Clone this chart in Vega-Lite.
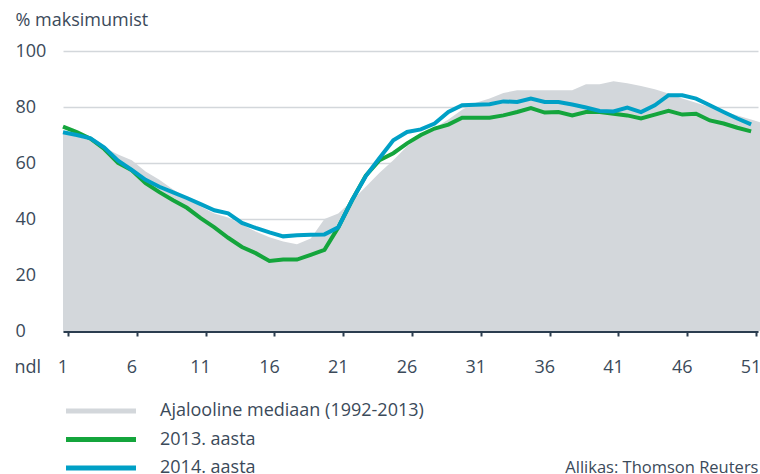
{
  "$schema": "https://vega.github.io/schema/vega-lite/v6.json",
  "width": 695,
  "height": 280,
  "autosize": {"type": "none"},
  "padding": {"left": 63, "top": 51, "right": 2, "bottom": 143},
  "config": {"font": "Open Sans", "view": {"stroke": null}},
  "data": {"values": [
    {"w": 1, "m": 70.5, "a": 73, "b": 71},
    {"w": 2, "m": 69.5, "a": 71, "b": 70},
    {"w": 3, "m": 68, "a": 68.7, "b": 68.8},
    {"w": 4, "m": 65.5, "a": 65, "b": 65.5},
    {"w": 5, "m": 63, "a": 60, "b": 60.8},
    {"w": 6, "m": 61, "a": 57.4, "b": 57.5},
    {"w": 7, "m": 57, "a": 52.8, "b": 54},
    {"w": 8, "m": 54, "a": 49.6, "b": 51.5},
    {"w": 9, "m": 50.5, "a": 46.7, "b": 49.5},
    {"w": 10, "m": 47.5, "a": 44, "b": 47.5},
    {"w": 11, "m": 44.5, "a": 40.3, "b": 45.3},
    {"w": 12, "m": 42, "a": 37, "b": 43.1},
    {"w": 13, "m": 40.5, "a": 33.3, "b": 42},
    {"w": 14, "m": 38, "a": 30, "b": 38.6},
    {"w": 15, "m": 35.5, "a": 27.8, "b": 36.8},
    {"w": 16, "m": 33.5, "a": 25, "b": 35.2},
    {"w": 17, "m": 32, "a": 25.5, "b": 33.8},
    {"w": 18, "m": 31, "a": 25.5, "b": 34.2},
    {"w": 19, "m": 33, "a": 27.2, "b": 34.4},
    {"w": 20, "m": 40, "a": 29, "b": 34.5},
    {"w": 21, "m": 42, "a": 37, "b": 37},
    {"w": 22, "m": 46.5, "a": 46.7, "b": 46.7},
    {"w": 23, "m": 51.5, "a": 55.5, "b": 55.3},
    {"w": 24, "m": 56.5, "a": 61, "b": 61.8},
    {"w": 25, "m": 61, "a": 63.5, "b": 68.1},
    {"w": 26, "m": 66, "a": 67, "b": 71.1},
    {"w": 27, "m": 69.5, "a": 70, "b": 72},
    {"w": 28, "m": 72.5, "a": 72.3, "b": 74.1},
    {"w": 29, "m": 75.5, "a": 73.7, "b": 78.2},
    {"w": 30, "m": 79, "a": 76.2, "b": 80.6},
    {"w": 31, "m": 81.5, "a": 76.2, "b": 80.8},
    {"w": 32, "m": 83, "a": 76.2, "b": 81},
    {"w": 33, "m": 85, "a": 77, "b": 82},
    {"w": 34, "m": 86, "a": 78.2, "b": 81.8},
    {"w": 35, "m": 86, "a": 79.6, "b": 83},
    {"w": 36, "m": 86, "a": 78, "b": 81.8},
    {"w": 37, "m": 86, "a": 78.2, "b": 81.8},
    {"w": 38, "m": 86, "a": 77, "b": 80.9},
    {"w": 39, "m": 88.1, "a": 78.2, "b": 79.8},
    {"w": 40, "m": 88.1, "a": 78.2, "b": 78.6},
    {"w": 41, "m": 89.2, "a": 77.6, "b": 78.4},
    {"w": 42, "m": 88.5, "a": 77, "b": 79.8},
    {"w": 43, "m": 87.5, "a": 75.9, "b": 78.2},
    {"w": 44, "m": 86.3, "a": 77.3, "b": 80.6},
    {"w": 45, "m": 84.8, "a": 78.6, "b": 84.2},
    {"w": 46, "m": 83, "a": 77.3, "b": 84.2},
    {"w": 47, "m": 81.5, "a": 77.6, "b": 83},
    {"w": 48, "m": 80, "a": 75.2, "b": 80.6},
    {"w": 49, "m": 78.5, "a": 74.1, "b": 78.2},
    {"w": 50, "m": 77, "a": 72.6, "b": 75.9},
    {"w": 51, "m": 75.5, "a": 71.3, "b": 73.8},
    {"w": 52, "m": 74, "a": null, "b": null}
  ]},
  "layer": [
    {
      "mark": {"type": "area", "clip": false, "opacity": 1},
      "encoding": {
        "x": {
          "field": "w", "type": "quantitative",
          "scale": {"domain": [1, 51.5], "nice": false, "zero": false},
          "axis": {
            "orient": "bottom",
            "values": [1, 6, 11, 16, 21, 26, 31, 36, 41, 46, 51],
            "domain": true, "domainColor": "#2b3d4f", "domainWidth": 3, "domainCap": "butt",
            "ticks": true, "tickSize": 5, "tickWidth": 2, "tickColor": "#2b3d4f", "tickOffset": 5,
            "grid": false,
            "labelFont": "Open Sans", "labelFontSize": 18, "labelColor": "#3b4a5a",
            "labelPadding": 31, "labelBaseline": "middle", "labelFlush": false, "labelOverlap": false,
            "labelOffset": -5.5,
            "title": "ndl", "titleX": -49, "titleY": 36, "titleAlign": "left", "titleBaseline": "middle",
            "titleFont": "Open Sans", "titleFontSize": 18, "titleFontWeight": "normal", "titleColor": "#3b4a5a"
          }
        },
        "y": {
          "field": "m", "type": "quantitative", "title": "% maksimumist",
          "scale": {"domain": [0, 100], "nice": false},
          "axis": {
            "values": [0, 20, 40, 60, 80, 100],
            "domain": false, "ticks": false, "tickSize": 0,
            "grid": true, "gridColor": "#d3d7db", "gridWidth": 1.5,
            "labelAlign": "left", "labelPadding": 48, "labelBaseline": "middle",
            "labelFont": "Open Sans", "labelFontSize": 18, "labelColor": "#3b4a5a",
            "title": "% maksimumist", "titleAngle": 0, "titleX": -48, "titleY": -31,
            "titleAlign": "left", "titleBaseline": "middle",
            "titleFont": "Open Sans", "titleFontSize": 18, "titleFontWeight": "normal", "titleColor": "#3b4a5a"
          }
        },
        "color": {
          "datum": "Ajalooline mediaan (1992-2013)",
          "scale": {
            "domain": ["Ajalooline mediaan (1992-2013)", "2013. aasta", "2014. aasta"],
            "range": ["#d3d7db", "#14a53c", "#00a0c6"]
          },
          "legend": {
            "orient": "none", "legendX": 0, "legendY": 351, "title": null,
            "direction": "vertical", "padding": 0,
            "symbolSize": 100, "symbolStrokeWidth": 0,
            "symbolType": "M-1.2,-0.5L12.8,-0.5L12.8,0.5L-1.2,0.5Z",
            "labelOffset": 79, "labelFont": "Open Sans", "labelFontSize": 18, "labelColor": "#3b4a5a",
            "labelLimit": 500, "rowPadding": 10.5,
            "encode": {
              "symbols": {
                "update": {
                  "shape": {"signal": "datum.index === 0 ? 'M-1.2,-1.3L12.8,-1.3L12.8,1.3L-1.2,1.3Z' : 'M-1.2,-0.5L12.8,-0.5L12.8,0.5L-1.2,0.5Z'"},
                  "fill": {"scale": "color", "field": "value"},
                  "stroke": {"value": "transparent"},
                  "strokeWidth": {"value": 0},
                  "opacity": {"value": 1},
                  "fillOpacity": {"value": 1}
                }
              }
            }
          }
        }
      }
    },
    {
      "mark": {"type": "line", "strokeWidth": 4},
      "encoding": {
        "x": {
          "field": "w", "type": "quantitative",
          "axis": {
            "orient": "bottom", "offset": -4,
            "values": [1, 6, 11, 16, 21, 26, 31, 36, 41, 46, 51],
            "domain": false, "ticks": true, "tickSize": 4, "tickWidth": 2, "tickColor": "#2b3d4f", "tickOffset": 5,
            "labels": false, "grid": false,
            "title": "Allikas: Thomson Reuters", "titleX": 695, "titleY": 140,
            "titleAlign": "right", "titleBaseline": "middle",
            "titleFont": "Open Sans", "titleFontSize": 16.5, "titleFontWeight": "normal", "titleColor": "#3b4a5a"
          }
        },
        "y": {"field": "a", "type": "quantitative", "title": "% maksimumist"},
        "color": {"datum": "2013. aasta"}
      }
    },
    {
      "mark": {"type": "line", "strokeWidth": 4},
      "encoding": {
        "x": {"field": "w", "type": "quantitative", "axis": null},
        "y": {"field": "b", "type": "quantitative", "title": "% maksimumist"},
        "color": {"datum": "2014. aasta"}
      }
    }
  ],
  "resolve": {"axis": {"x": "independent"}}
}
